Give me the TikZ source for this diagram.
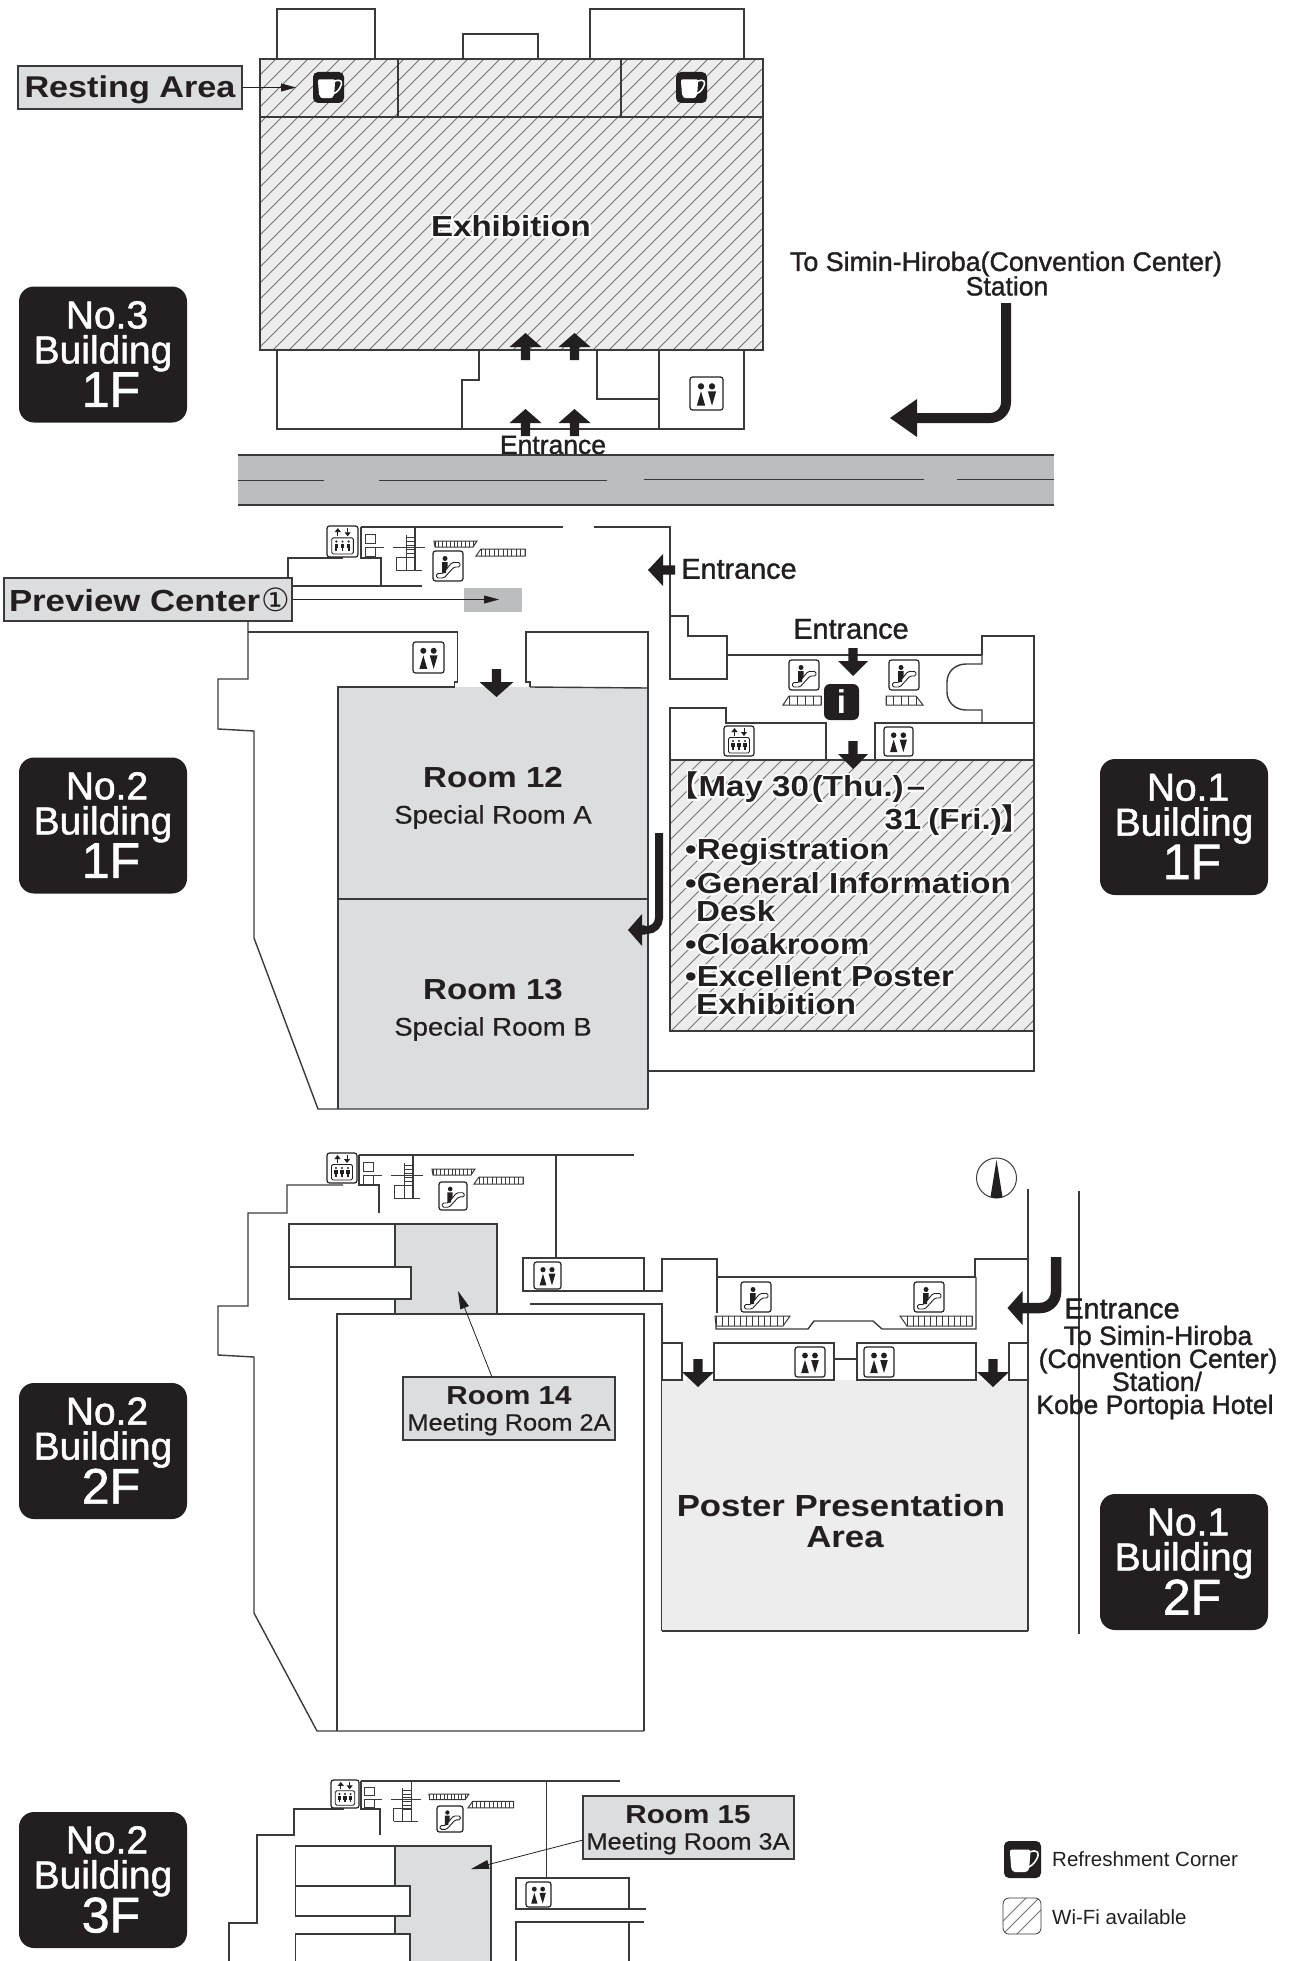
\documentclass[tikz,border=0pt]{standalone}
\usepackage{fontspec}
\usetikzlibrary{arrows.meta}
\setmainfont{Liberation Sans}
\newfontfamily\wideb{Liberation Sans}[FakeStretch=1.14]
\newfontfamily\widem{Liberation Sans}[FakeStretch=1.08,FakeBold=0.4]
\newfontfamily\medf{Liberation Sans}[FakeBold=1.3]
\newfontfamily\dejav{DejaVu Sans}
\newfontfamily\cjkf{Noto Sans CJK JP}
\definecolor{ink}{HTML}{231F20}
\definecolor{wallc}{HTML}{3A3A3C}
\definecolor{roomgray}{HTML}{DCDDDE}
\definecolor{lightgray}{HTML}{EDEDEE}
\definecolor{roadgray}{HTML}{BBBDBF}
\newcommand\fsz[1]{\fontsize{#1}{#1}\selectfont}
\newcommand\halo[1]{\leavevmode\rlap{\special{pdf:code q 1 1 1 RG 4 w 1 j 2 Tr}#1\special{pdf:code 0 Tr Q}}#1}
\tikzset{
  wall/.style={draw=wallc,line width=1.4pt,line join=miter},
  thinwall/.style={draw=wallc,line width=1pt},
  hatchline/.style={draw=black!55,line width=0.8pt},
  thinarrow/.style={draw=ink,line width=0.8pt,-{Triangle[length=15pt,width=8pt]}},
  lblbox/.style={draw=wallc,line width=1.2pt,fill=roomgray,inner sep=0pt,text=ink,align=center},
  tagbox/.style={fill=ink,rounded corners=15pt,inner sep=0pt,minimum width=168pt,minimum height=136pt},
  tagtext/.style={text=white,inner sep=0pt,align=center,font=\medf\fsz{39}},
  boldlbl/.style={text=ink,inner sep=0pt,align=center,font=\wideb\bfseries\fsz{29}},
  sublbl/.style={text=ink,inner sep=0pt,align=center,font=\widem\fsz{23.5}},
  medlbl/.style={text=ink,inner sep=0pt,align=center,font=\medf\fsz{26.5}},
  boxlbl/.style={text=ink,inner sep=0pt,align=center,font=\fsz{26}},
  leg/.style={text=ink,inner sep=0pt,anchor=west,font=\fsz{20.5}},
}
\newcommand\tagrows[2]{{\hspace*{8pt}No.#1}\\[-4pt]Building\\[0pt]{\hspace*{16pt}\fsz{50}#2}}
\newcommand\hatcharea[4]{%
  \fill[lightgray] (#1,#2) rectangle (#3,#4);
  \begin{scope}
    \clip (#1,#2) rectangle (#3,#4);
    \pgfmathsetmacro\hsa{#1+16}
    \pgfmathsetmacro\hsb{#3+(#4-#2)}
    \pgfmathsetmacro\hsh{#4-#2}
    \foreach \s in {#1,\hsa,...,\hsb} \draw[hatchline] (\s,#2) -- ++(-\hsh,\hsh);
  \end{scope}
}
\newcommand\blockv[5]{\fill[ink] ({#1-4.7},#2) -- ({#1-4.7},#3) -- ({#1-#5},#3) -- (#1,#4) -- ({#1+#5},#3) -- ({#1+4.7},#3) -- ({#1+4.7},#2) -- cycle;}
\newcommand\blockh[5]{\fill[ink] (#2,{#1-4.7}) -- (#3,{#1-4.7}) -- (#3,{#1-#5}) -- (#4,#1) -- (#3,{#1+#5}) -- (#3,{#1+4.7}) -- (#2,{#1+4.7}) -- cycle;}
\newcommand\escbar[7]{% tl tr bl br y1 y2 n
  \draw[thinwall,fill=white] (#1,#5) -- (#2,#5) -- (#4,#6) -- (#3,#6) -- cycle;
  \pgfmathsetmacro\ea{max(#1,#3)}\pgfmathsetmacro\eb{min(#2,#4)}
  \foreach \k in {1,...,#7}{\pgfmathsetmacro\ex{\ea+(\k-1)*(\eb-\ea)/(#7-1)}\draw[draw=wallc,line width=0.8pt] (\ex,#5) -- (\ex,#6);}
}
\newcommand\iconwc[3]{\begin{scope}[shift={(#1,#2)},scale=#3/30]
  \draw[draw=ink,line width=1.2pt,fill=white,rounded corners=2.5pt] (0,0) rectangle (30,30);
  \fill[ink] (10,8.5) circle (2.9); \fill[ink] (20,8.5) circle (2.9);
  \fill[ink] (10,13) -- (13.8,26) -- (6.2,26) -- cycle;
  \fill[ink] (16.2,13) -- (23.8,13) -- (20,26) -- cycle;
\end{scope}}
\newcommand\iconel[3]{\begin{scope}[shift={(#1,#2)},scale=#3/30]
  \draw[draw=ink,line width=1.2pt,fill=white,rounded corners=2.5pt] (0,0) rectangle (30,30);
  \draw[draw=ink,line width=0.9pt,-{Triangle[length=4pt,width=6pt]}] (10.5,10) -- (10.5,2);
  \draw[draw=ink,line width=0.9pt,-{Triangle[length=4pt,width=6pt]}] (20,2) -- (20,10);
  \draw[draw=ink,line width=0.8pt,rounded corners=1.5pt] (4.5,11.5) rectangle (25.5,27);
  \foreach \px in {9,15,21}{\fill[ink] (\px,15) circle (1.2); \fill[ink] ({\px-1.7},17) rectangle ({\px+1.7},21); \fill[ink] ({\px-0.8},21) rectangle ({\px+0.8},24);}
\end{scope}}
\newcommand\iconesc[3]{\begin{scope}[shift={(#1,#2)},scale=#3/30]
  \draw[draw=ink,line width=1.2pt,fill=white,rounded corners=2.5pt] (0,0) rectangle (30,30);
  \fill[ink] (12,7.5) circle (2.5);
  \fill[ink] (9,11) -- (14.5,11) -- (14.5,16.5) -- (13,18.5) -- (13,22) -- (9,22) -- cycle;
  \draw[draw=ink,line width=0.9pt,rounded corners=1.5pt] (3.5,27) -- (11,27) -- (21,16) -- (27,16) -- (27,11.5) -- (19,11.5) -- (16,15) -- (10,22.5) -- (3.5,22.5) -- cycle;
\end{scope}}
\newcommand\iconcup[3]{\begin{scope}[shift={(#1,#2)},scale=#3/32]
  \fill[ink,rounded corners=5pt] (0,0) rectangle (32,32);
  \draw[draw=white,line width=1.6pt] (21,10) .. controls (30,6) and (31,11) .. (28,16) .. controls (26,20) and (23,22) .. (20,23);
  \fill[white,rounded corners=2pt] (5,7.5) -- (23,7.5) -- (22,21) .. controls (21.5,26) and (19,27) .. (16,27) -- (12,27) .. controls (9,27) and (6.5,26) .. (6,21) -- cycle;
\end{scope}}
\newcommand\stairset[3]{\begin{scope}[shift={(#1,#2)},scale=#3,shift={(-361,-527)}]
  \draw[thinwall] (365,534) rectangle (375,543);
  \draw[thinwall] (365,547) rectangle (375,556);
  \draw[thinwall] (376,547) -- (384,547);
  \draw[thinwall] (393,547) -- (425,547);
  \draw[thinwall] (406,535) -- (406,570);
  \foreach \ry in {537,541,...,557} \draw[draw=wallc,line width=0.8pt] (406,\ry) -- (415,\ry);
  \draw[thinwall] (396,570.5) -- (396,557) -- (415,557);
  \draw[wall] (396,570.5) -- (422,570.5);
  \draw[wall] (415,527) -- (415,570.5);
  \escbar{434}{477}{435}{473}{541}{547}{11}
  \escbar{481}{525}{476}{525}{549}{556}{11}
\end{scope}}
\begin{document}
\begin{tikzpicture}[x=1pt,y=-1pt]
\useasboundingbox (0,0) rectangle (1293,1961);
%% ---------- No.3 Building 1F
\draw[wall] (277,59) -- (277,9) -- (375,9) -- (375,59);
\draw[wall] (463,59) -- (463,34) -- (538,34) -- (538,59);
\draw[wall] (590,59) -- (590,9) -- (744,9) -- (744,59);
\hatcharea{260}{59}{763}{350}
\draw[wall] (260,59) rectangle (763,350);
\draw[wall] (260,117) -- (763,117);
\draw[wall] (398,59) -- (398,117);
\draw[wall] (621,59) -- (621,117);
\iconcup{313}{72}{31}
\iconcup{676}{72}{31}
\node[lblbox,minimum width=224pt,text height=32pt,text depth=11pt,font=\wideb\bfseries\fsz{30}] (rest) at (130,87.5) {Resting Area};
\coordinate (restend) at (296,87.5);
\draw[thinarrow] (rest.east) -- (restend);
\node[boldlbl] (exh) at (511,226) {\halo{Exhibition}};
\draw[wall] (277,350) -- (277,429) -- (744,429) -- (744,350);
\draw[wall] (479,350) -- (479,380) -- (462,380) -- (462,429);
\draw[wall] (597,350) -- (597,399) -- (659,399);
\draw[wall] (659,350) -- (659,429);
\iconwc{690}{377}{33}
\blockv{525.5}{360}{347}{333}{16}
\blockv{574.5}{360}{347}{333}{16}
\blockv{525.5}{436}{423}{409}{16}
\blockv{574.5}{436}{423}{409}{16}
\node[medlbl] (ent3) at (553,445) {Entrance};
\fill[roadgray] (237.5,455) rectangle (1054,505);
\draw[wall] (237.5,455) -- (1054,455);
\draw[wall] (237.5,505) -- (1054,505);
\draw[thinwall] (237.5,480) -- (324,480);
\draw[thinwall] (379,480) -- (607,480);
\draw[thinwall] (644,479) -- (924,479);
\draw[thinwall] (957,479) -- (1054,479);
\node[medlbl,font=\medf\fsz{26.8}] (tosimin) at (1006,264) {To Simin-Hiroba(Convention Center)};
\node[medlbl] (station) at (1007,286) {Station};
\draw[ink,line width=10pt,rounded corners=16pt] (1006,303) -- (1006,418) -- (915,418);
\blockh{418}{918}{917}{890}{19}
\node[tagbox] (t1) at (103,354.5) {};
\node[tagtext] (t1a) at (103,354) {\tagrows{3}{1F}};
%% ---------- No.2 Building 1F
\fill[roomgray] (338,687) rectangle (648,1109);
\draw[wall] (361,527) -- (563,527);
\draw[wall] (594,527) -- (670,527) -- (670,679) -- (727,679) -- (727,636) -- (688,636) -- (688,616) -- (670,616);
\draw[wall] (361,527) -- (361,558) -- (381,558) -- (381,586);
\draw[wall] (288,586) -- (288,558) -- (343,558);
\draw[wall] (288,586) -- (422,586);
\stairset{361}{527}{1}
\iconesc{433}{551}{30}
\iconel{327}{526}{31}
\fill[roadgray] (464,588) rectangle (522,612);
\draw[wall] (248,621) -- (248,679) -- (218,679) -- (218,729) -- (254,731) -- (254,938) -- (318,1109) -- (648,1109);
\draw[wall] (248,632) -- (457.5,632) -- (457.5,682) -- (454.5,682) -- (454.5,687) -- (338,687) -- (338,1109);
\draw[wall] (530,687) -- (530,682) -- (526,682) -- (526,632) -- (648,632) -- (648,1109);
\draw[wall] (530,687) -- (648,688);
\draw[wall] (338,899) -- (648,899);
\iconwc{413}{642}{31}
\blockv{496.5}{669}{682}{697}{17}
\node[lblbox,minimum width=288pt,minimum height=43pt] (prev) at (148,599.5) {\hbox to 284pt{\hspace{3pt}\wideb\bfseries\fsz{30.5}Preview Center\hfill\dejav\mdseries\fsz{32}①}};
\coordinate (prevend) at (499,599.5);
\draw[thinarrow] (prev.east) -- (prevend);
\node[boldlbl] (r12) at (493,778) {Room 12};
\node[sublbl,font=\widem\fsz{25.5}] (r12s) at (493,817) {Special Room A};
\node[boldlbl] (r13) at (493,990) {Room 13};
\node[sublbl,font=\widem\fsz{25.5}] (r13s) at (493,1029) {Special Room B};
\node[tagbox] (t2) at (103,825.5) {};
\node[tagtext] (t2a) at (103,825) {\tagrows{2}{1F}};
%% ---------- No.1 Building 1F
\hatcharea{670}{760}{1034}{1031}
\draw[wall] (670,760) rectangle (1034,1031);
\draw[wall] (670,760) -- (670,708) -- (726,708) -- (726,723) -- (826,723) -- (826,760);
\draw[wall] (875,760) -- (875,723) -- (1034,723);
\draw[wall] (727,655) -- (982,655);
\draw[wall] (982,655) -- (982,636) -- (1034,636) -- (1034,1071) -- (648,1071);
\draw[wall] (982,655) -- (982,664) -- (966,664) .. controls (955,664) and (947,672) .. (947,682) -- (947,692) .. controls (947,702) and (955,710) .. (966,710) -- (982,710) -- (982,723);
\iconesc{789}{660}{30}
\iconesc{889}{660}{30}
\escbar{789}{821}{783}{821}{696}{705}{5}
\escbar{886}{916}{886}{923}{696}{705}{5}
\iconel{724}{726}{30}
\iconwc{884}{727}{29}
\fill[ink,rounded corners=6pt] (824,684) rectangle (859,720);
\node[text=white,inner sep=0pt,font=\bfseries\fsz{33}] (infoi) at (841.5,702) {i};
\blockv{853}{648}{661}{676}{15}
\blockv{853}{741}{754}{769}{15}
\blockh{570}{675}{663}{648}{16}
\node[medlbl,font=\medf\fsz{28.8}] (ent1a) at (739,569) {Entrance};
\node[medlbl,font=\medf\fsz{28.8}] (ent1b) at (851,629) {Entrance};
\draw[ink,line width=8pt,rounded corners=12pt] (659,833) -- (659,930) -- (640,930);
\blockh{930}{645}{642}{628}{16}
\node[boldlbl,anchor=west] (m1) at (684,787) {\halo{\hspace{-0.5em}{\cjkf【}May 30\hspace{3pt}(Thu.)\hspace{3pt}–}};
\node[boldlbl,anchor=east] (m2) at (1031,820) {\halo{31\hspace{7pt}(Fri.){\cjkf】}}};
\node[boldlbl,anchor=west] (m3) at (685,852) {\halo{•Registration}};
\node[boldlbl,anchor=west] (m4) at (685,883) {\halo{•General Information}};
\node[boldlbl,anchor=west] (m5) at (696,911) {\halo{Desk}};
\node[boldlbl,anchor=west] (m6) at (685,944) {\halo{•Cloakroom}};
\node[boldlbl,anchor=west] (m7) at (685,976) {\halo{•Excellent Poster}};
\node[boldlbl,anchor=west] (m8) at (696,1004) {\halo{Exhibition}};
\node[tagbox] (t3) at (1184,827) {};
\node[tagtext] (t3a) at (1184,826.5) {\tagrows{1}{1F}};
%% ---------- No.2 Building 2F
\draw[wall] (359,1155) -- (634,1155);
\draw[wall] (556,1155) -- (556,1258);
\draw[wall] (359,1155) -- (359,1185) -- (379,1185) -- (379,1213);
\draw[wall] (343,1185) -- (287,1185) -- (287,1213) -- (248,1213) -- (248,1306) -- (218,1306) -- (218,1355) -- (254,1357) -- (254,1613) -- (317,1731) -- (644,1731);
\stairset{359}{1155}{1}
\iconesc{439}{1182}{28}
\iconel{327}{1153}{30}
\fill[roomgray] (395,1224) rectangle (497,1314);
\draw[wall] (395,1224) rectangle (497,1314);
\draw[wall,fill=white] (289,1224) rectangle (395,1267);
\draw[wall,fill=white] (289,1267) rectangle (411,1299);
\draw[wall] (337,1731) -- (337,1314) -- (644,1314) -- (644,1731);
\draw[wall] (523,1258) rectangle (644,1291);
\draw[wall] (644,1291) -- (662,1291) -- (662,1259) -- (717,1259) -- (717,1277) -- (975,1277) -- (975,1259) -- (1028,1259);
\draw[wall] (530,1304) -- (662,1304) -- (662,1631);
\draw[wall] (717,1277) -- (717,1313);
\draw[wall] (716,1326) -- (716,1329) -- (808,1329) -- (814,1321) -- (873,1321) -- (882,1329) -- (976,1329) -- (976,1277);
\iconwc{534}{1262}{27}
\fill[lightgray] (662,1380) rectangle (1028,1631);
\draw[wall] (662,1631) -- (1028,1631);
\draw[wall] (662,1343) rectangle (682,1380);
\draw[wall] (714,1343) rectangle (834,1380);
\draw[wall] (857,1343) rectangle (976,1380);
\draw[wall] (1009,1343) rectangle (1028,1380);
\draw[wall] (834,1359) -- (857,1359);
\iconwc{795}{1347}{30}
\iconwc{864}{1347}{30}
\iconesc{741}{1282}{30}
\iconesc{914}{1282}{30}
\escbar{715}{790}{716}{783}{1316}{1326}{12}
\escbar{900}{972}{907}{972}{1316}{1326}{12}
\blockv{698}{1359}{1372}{1387}{16}
\blockv{993}{1359}{1372}{1387}{16}
\draw[wall] (1028,1189) -- (1028,1631);
\draw[wall] (1079,1191) -- (1079,1634);
\draw[ink,line width=10.5pt,rounded corners=16pt] (1056,1257) -- (1056,1308) -- (1020,1308);
\blockh{1308}{1025}{1022.5}{1007.5}{17}
\draw[draw=wallc,line width=1pt] (996.5,1178) circle (20);
\fill[ink] (996.5,1160) -- (1002.5,1197) .. controls (999,1198.5) and (994,1198.5) .. (990.5,1197) -- cycle;
\node[medlbl,align=center,font=\medf\fsz{26.5}] (to2) at (1158,1359) {\hspace*{-72pt}{\fsz{28.8}Entrance}\\[0pt]To Simin-Hiroba\\[-3.5pt](Convention Center)\\[-3.5pt]\hspace*{-2pt}Station/\\[-3.5pt]\hspace*{-6pt}Kobe Portopia Hotel};
\node[lblbox,minimum width=212pt,minimum height=63pt] (r14box) at (509,1408.5) {};
\node[boxlbl] (r14t) at (509,1411) {{\wideb\bfseries\fsz{26}Room 14}\\[0pt]{\widem\mdseries\fsz{23.5}Meeting Room 2A}};
\coordinate (r14end) at (458,1291);
\draw[thinarrow,-{Triangle[length=18pt,width=9pt]}] (492,1377) -- (r14end);
\node[boldlbl,font=\wideb\bfseries\fsz{30.5},align=center] (post1) at (841,1521) {Poster Presentation\\[1pt]\hspace*{8pt}Area};
\node[tagbox] (t4) at (103,1451) {};
\node[tagtext] (t4a) at (103,1450.5) {\tagrows{2}{2F}};
\node[tagbox] (t5) at (1184,1562) {};
\node[tagtext] (t5a) at (1184,1561.5) {\tagrows{1}{2F}};
%% ---------- No.2 Building 3F
\draw[wall] (361,1781) -- (620,1781);
\draw[wall] (546.5,1781) -- (546.5,1878);
\draw[wall] (361,1781) -- (361,1809) -- (380,1809) -- (380,1835);
\draw[wall] (344,1809) -- (294,1809) -- (294,1835) -- (257,1835) -- (257,1923) -- (229,1923) -- (229,1961);
\stairset{361}{1781}{0.93}
\iconesc{437}{1806}{26}
\iconel{331}{1780}{28}
\fill[roomgray] (395,1846) rectangle (491,1961);
\draw[wall] (395,1846) -- (491,1846) -- (491,1961);
\draw[wall] (395,1846) -- (395,1961);
\draw[wall,fill=white] (295.5,1846) rectangle (395,1886);
\draw[wall,fill=white] (295.5,1886) rectangle (410,1916);
\draw[wall,fill=white] (295.5,1961) -- (295.5,1934) -- (410,1934) -- (410,1961);
\draw[wall] (516,1878) -- (629,1878) -- (629,1909) -- (516,1909) -- cycle;
\draw[wall] (629,1909) -- (646,1909);
\draw[wall] (644,1922) -- (516,1922) -- (516,1961);
\draw[wall] (629,1922) -- (629,1961);
\iconwc{526}{1882}{25}
\node[lblbox,minimum width=211pt,minimum height=63pt] (r15box) at (688.5,1827.5) {};
\node[boxlbl] (r15t) at (688,1830) {{\wideb\bfseries\fsz{26}Room 15}\\[0pt]{\widem\mdseries\fsz{23.5}Meeting Room 3A}};
\coordinate (r15end) at (471,1869);
\draw[thinarrow,-{Triangle[length=18pt,width=9pt]}] (583,1840) -- (r15end);
\node[tagbox] (t6) at (103,1880) {};
\node[tagtext] (t6a) at (103,1879.5) {\tagrows{2}{3F}};
%% ---------- Legend
\iconcup{1004}{1841}{37}
\node[leg] (l1) at (1052,1859) {Refreshment Corner};
\begin{scope}
  \clip[rounded corners=6pt] (1003,1898) rectangle (1041,1934);
  \draw[hatchline] (1003,1921) -- (1028,1896);
  \draw[hatchline] (1003,1934) -- (1041,1896);
  \draw[hatchline] (1015,1936) -- (1043,1908);
\end{scope}
\draw[draw=wallc,line width=0.8pt,rounded corners=6pt] (1003,1898) rectangle (1041,1934);
\node[leg] (l2) at (1052,1917) {Wi-Fi available};
\end{tikzpicture}
\end{document}
